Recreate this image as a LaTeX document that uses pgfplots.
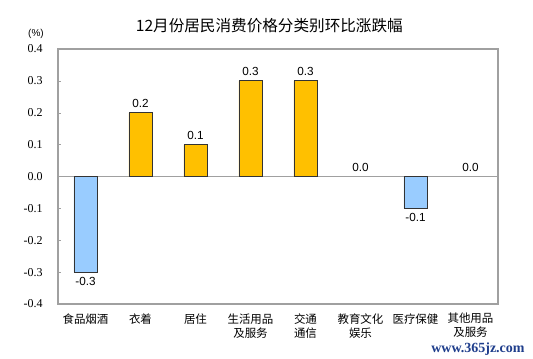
\documentclass[border=0pt]{standalone}
\usepackage{pgfplots}
\pgfplotsset{compat=1.18}
\usepackage{fontspec}
\setmainfont{Liberation Sans}
\newfontfamily\cjk{Noto Sans CJK SC}
\newfontfamily\serif{Liberation Serif}
\definecolor{barblue}{HTML}{99CCFF}
\definecolor{baryel}{HTML}{FFC000}
\definecolor{axgray}{HTML}{A0A0A0}
\definecolor{wmblue}{HTML}{1F3E8C}
\begin{document}
\begin{tikzpicture}
\path[use as bounding box] (0,0) rectangle (399.75pt,268.5pt);
\begin{axis}[
  at={(43.5pt,40.5pt)}, anchor=south west,
  scale only axis, width=330pt, height=191.25pt,
  xmin=-0.5, xmax=7.5, ymin=-0.4, ymax=0.4,
  ytick={-0.4,-0.3,...,0.4},
  xtick={0,...,7},
  xticklabels={食品烟酒,衣着,居住,生活用品\\及服务,交通\\通信,教育文化\\娱乐,医疗保健,其他用品\\及服务},
  xticklabel style={font=\cjk\fontsize{8.6pt}{10.5pt}\selectfont, align=center, anchor=north, yshift=-1pt},
  x tick style={draw=none},
  major tick length=2.5pt,
  ytick pos=left, tick align=inside,
  y tick style={axgray},
  axis line style={axgray, line width=0.9pt},
  /pgf/number format/assume math mode=true,
  yticklabel style={font=\serif\fontsize{9pt}{10pt}\selectfont, xshift=-8pt},
  yticklabel={\pgfmathprintnumber[fixed,fixed zerofill,precision=1]{\tick}},
  extra y ticks={0}, extra y tick labels={},
  extra y tick style={grid=major, major grid style={axgray, line width=0.9pt}},
  ybar, bar width=17.25pt, bar shift=0pt,
  nodes near coords={\pgfmathprintnumber[fixed,fixed zerofill,precision=1]{\pgfplotspointmeta}},
  every node near coord/.append style={font=\fontsize{8.8pt}{10pt}\selectfont, text=black},
  clip=false,
]
\addplot[fill=baryel, draw=black!80, line width=0.6pt] coordinates {(1,0.2) (2,0.1) (3,0.3) (4,0.3)};
\addplot[fill=barblue, draw=black!80, line width=0.6pt, every node near coord/.append style={anchor=north}] coordinates {(0,-0.3) (6,-0.1)};
\addplot[draw=none, fill=none] coordinates {(5,0) (7,0)};
\end{axis}
\node[font=\cjk\fontsize{11.7pt}{13pt}\selectfont] at (202pt,249.5pt) {12月份居民消费价格分类别环比涨跌幅};
\node[font=\fontsize{7.5pt}{9pt}\selectfont] at (27pt,243pt) {(\%)};
\node[font=\serif\bfseries\fontsize{10.5pt}{12pt}\selectfont, text=wmblue, anchor=east] at (397pt,7pt) {www.365jz.com};
\end{tikzpicture}
\end{document}
